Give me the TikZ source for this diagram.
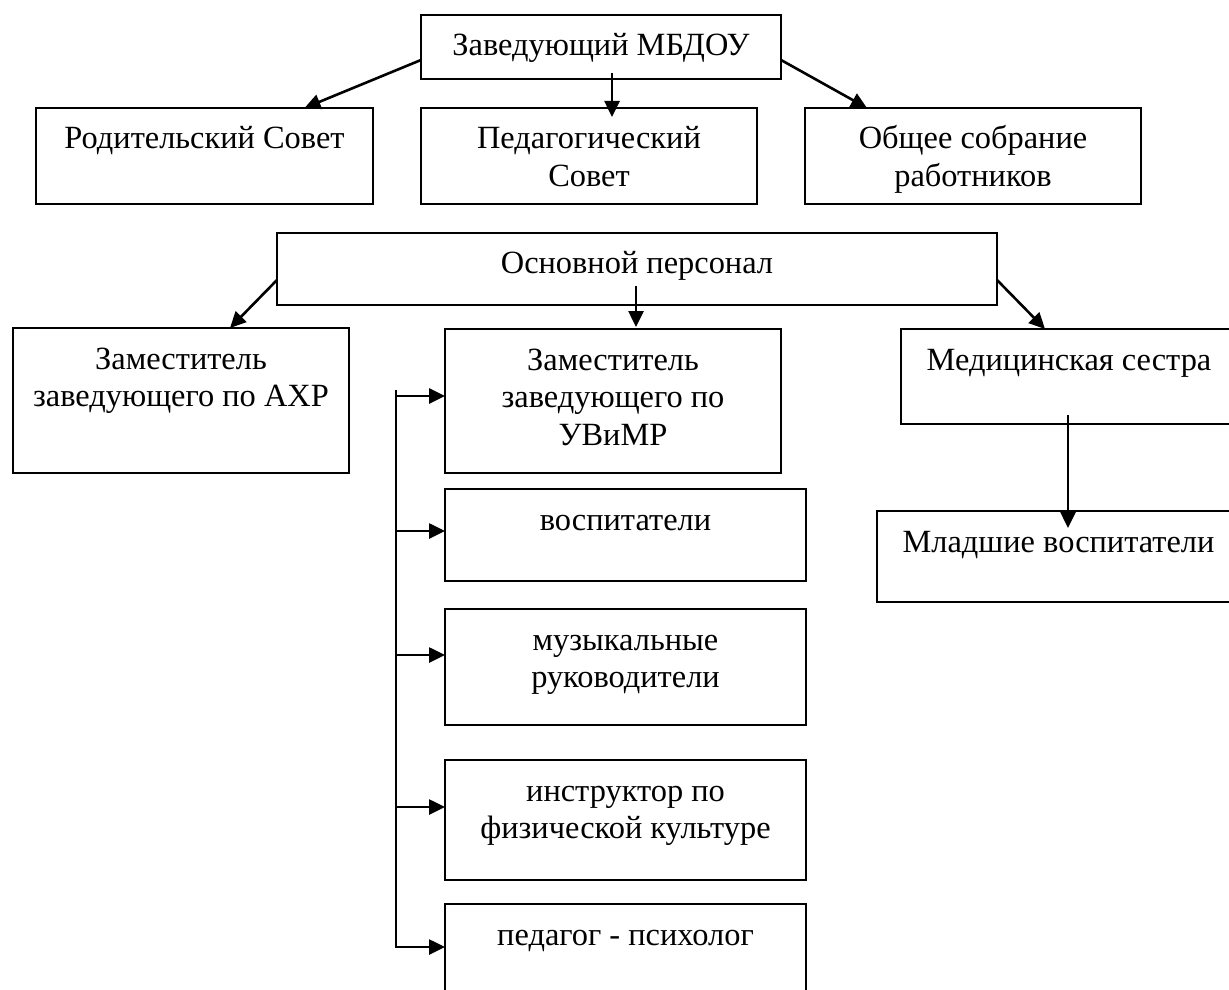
\documentclass[tikz,border=0pt]{standalone}
\usepackage{fontspec}
\setmainfont{Liberation Serif}
\usetikzlibrary{arrows.meta,calc}
\newcommand{\bxt}[3]{\parbox[c][#2][t]{#1}{\centering\rule{0pt}{20.5pt}#3}}
\begin{document}
\begin{tikzpicture}[x=0.5pt,y=-0.5pt,
  box/.style={draw,line width=1.1pt,inner sep=0pt,outer sep=0pt,anchor=north west,
    font=\fontsize{16.2pt}{18.75pt}\selectfont},
  arr/.style={line width=1.3pt,-{Triangle[length=8pt,width=7.5pt]}}]
\useasboundingbox (0,0) rectangle (1229,989);
\clip (0,0) rectangle (1229,989);
% boxes
\node[box] (zav)   at (421,15)  {\bxt{180pt}{32pt}{Заведующий МБДОУ}};
\node[box] (rod)   at (36,108)  {\bxt{168.5pt}{48pt}{Родительский Совет}};
\node[box] (ped)   at (421,108) {\bxt{168pt}{48pt}{Педагогический\\Совет}};
\node[box] (obsh)  at (805,108) {\bxt{168pt}{48pt}{Общее собрание\\работников}};
\node[box] (osn)   at (277,233) {\bxt{360pt}{36pt}{Основной персонал}};
\node[box] (ahr)   at (13,328)  {\bxt{168pt}{72.5pt}{Заместитель\\заведующего по АХР}};
\node[box] (uv)    at (445,329) {\bxt{168pt}{72pt}{Заместитель\\заведующего по\\УВиМР}};
\node[box] (vosp)  at (445,489) {\bxt{180.5pt}{46pt}{воспитатели}};
\node[box] (muz)   at (445,609) {\bxt{180.5pt}{58pt}{музыкальные\\руководители}};
\node[box] (instr) at (445,760) {\bxt{180.5pt}{60pt}{инструктор по\\физической культуре}};
\node[box] (psy)   at (445,904) {\bxt{180.5pt}{50pt}{педагог - психолог}};
\node[box] (med)   at (901,329) {\bxt{168pt}{47.5pt}{Медицинская сестра}};
\node[box] (ml)    at (877,511) {\bxt{181.5pt}{45.5pt}{Младшие воспитатели}};
% connectors
\draw[arr] ($(zav.west)+(0,13)$) -- ($(rod.north)+(100,0)$);
\draw[arr] ($(zav.south)+(11,-6)$) -- ($(ped.north)+(23,9)$);
\draw[arr] ($(zav.east)+(0,13)$) -- ($(obsh.north)+(-106,0)$);
\draw[arr] ($(osn.west)+(0,11)$) -- ($(ahr.north)+(49,0)$);
\draw[arr] ($(osn.south)+(-1,-19)$) -- ($(uv.north)+(23,-2)$);
\draw[arr] ($(osn.east)+(0,11)$) -- ($(med.north west)+(144,0)$);
\draw[arr] ($(med.south west)+(167,-9)$) -- ($(ml.north west)+(191,17)$);
% bus to the УВиМР column
\coordinate (bus) at ($(uv.north west)+(-49,61)$);
\draw[arr] (bus) |- ($(psy.north west)+(0,43)$);
\foreach \n/\d in {uv/67,vosp/42,muz/46,instr/47}
  \draw[arr] ($(\n.north west)+(-49,\d)$) -- ($(\n.north west)+(0,\d)$);
\end{tikzpicture}
\end{document}
